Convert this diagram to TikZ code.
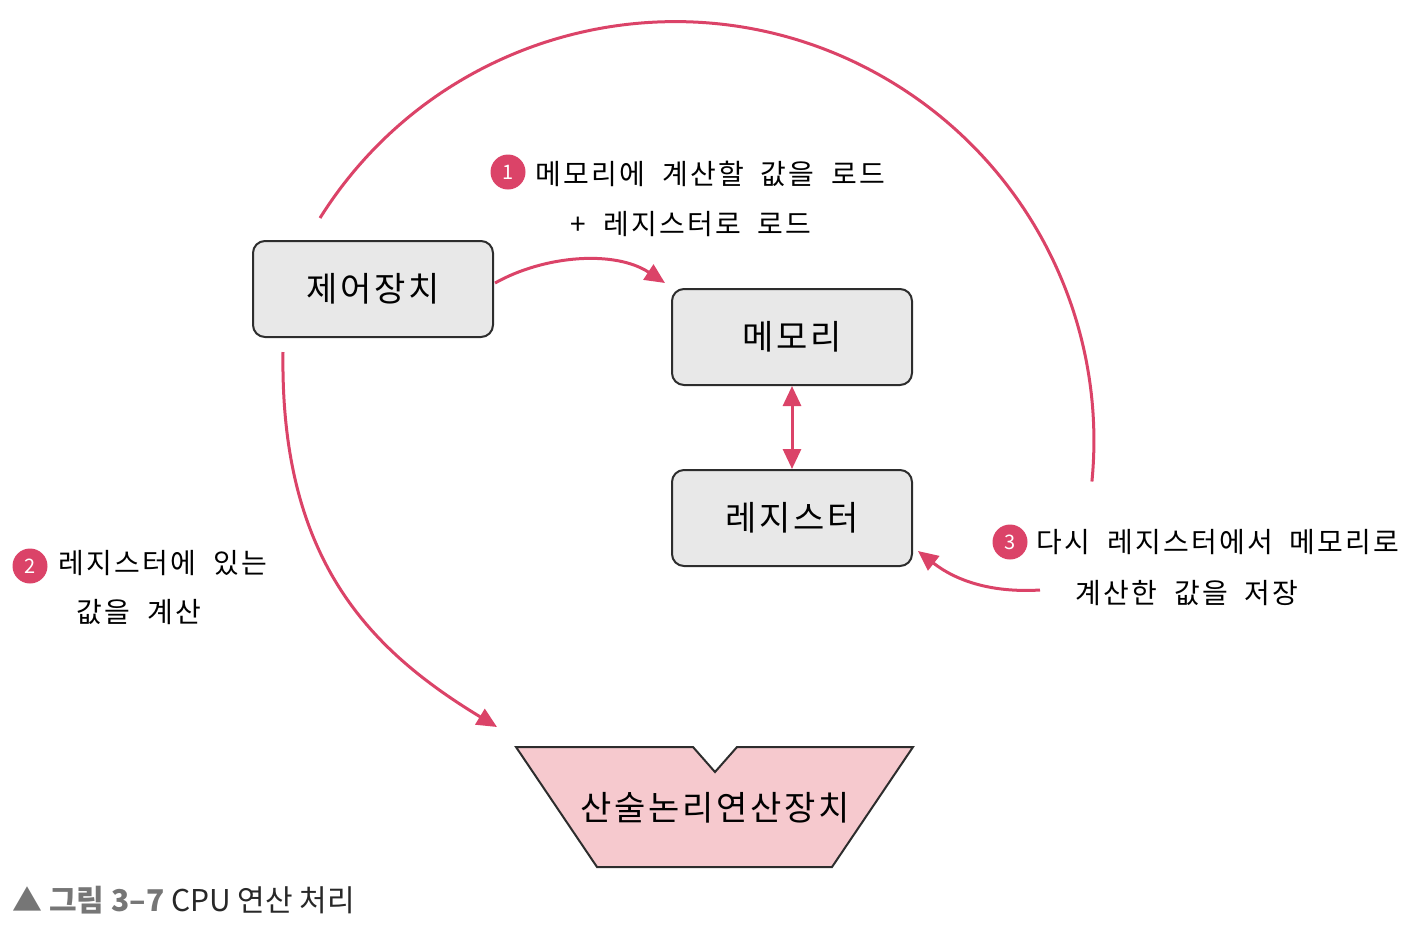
\documentclass[tikz,border=0pt]{standalone}
\usepackage{fontspec}
\setmainfont{Noto Sans CJK KR}
\newfontfamily\handfont[LetterSpace=8,WordSpace=2]{Noto Sans CJK KR}
\usetikzlibrary{arrows.meta}
\definecolor{pinkline}{RGB}{219,67,104}
\definecolor{alufill}{RGB}{246,201,206}
\definecolor{boxfill}{RGB}{232,232,232}
\definecolor{boxline}{RGB}{45,45,45}
\definecolor{capgray}{RGB}{118,118,118}
\definecolor{captext}{RGB}{40,40,40}
\tikzset{
  unitbox/.style={draw=boxline, fill=boxfill, line width=1pt, rounded corners=6pt,
    minimum width=120pt, minimum height=48pt, inner sep=0pt, font=\handfont\fontsize{17}{20}\selectfont},
  flow/.style={draw=pinkline, line width=1.5pt},
  flowarrow/.style={flow, -{Triangle[length=10pt,width=9pt]}},
  numdot/.style={circle, fill=pinkline, text=white, minimum size=17.5pt, inner sep=0pt,
    font=\fontsize{10}{12}\selectfont},
  note/.style={inner sep=0pt, font=\handfont\fontsize{14}{17}\selectfont, text=black},
}
\begin{document}
\begin{tikzpicture}[x=0.5pt,y=-0.5pt]
\useasboundingbox (0,0) rectangle (1408,944);

% boxes
\node[unitbox] (ctrl) at (373,289) {제어장치};
\node[unitbox] (mem) at (792,337) {메모리};
\node[unitbox] (reg) at (792,518) {레지스터};

% ALU shape
\draw[boxline, fill=alufill, line width=1pt]
  (516,747) -- (693,747) -- (715,772) -- (737,747) -- (913,747)
  -- (832,867) -- (597,867) -- cycle;
\node[inner sep=0pt, font=\handfont\fontsize{17}{20}\selectfont] (alu) at (715,808) {산술논리연산장치};

% coordinates for free ends
\coordinate (arcS) at (320,218);
\coordinate (arcE) at (1092,482);
\coordinate (aluIn) at (497,727);
\coordinate (ctrlOut) at (495,283);
\coordinate (memIn) at (665,283);
\coordinate (regIn) at (918,551);
\coordinate (noteThree) at (1040,590);
\coordinate (ctrlBot) at (283,352);

% big arc
\draw[flow] (arcS) arc[start angle=147.9, end angle=-5.6, radius=209.5pt];

% control -> memory
\draw[flowarrow] (ctrlOut) .. controls (545,255) and (615,250) .. (memIn);

% control -> ALU
\draw[flowarrow] (ctrlBot) .. controls (280,560) and (370,650) .. (aluIn);

% memory <-> register
\draw[flow, {Triangle[length=10pt,width=9pt]}-{Triangle[length=10pt,width=9pt]}]
  (mem.south) -- (reg.north);

% note 3 -> register
\draw[flowarrow] (noteThree) .. controls (990,593) and (955,580) .. (regIn);

% notes
\node[numdot] (n1) at (508,172) {1};
\node[note, anchor=west] (t1a) at (535,174) {메모리에 계산할 값을 로드};
\node[note] (t1b) at (691,224) {+ 레지스터로 로드};

\node[numdot] (n2) at (30,566) {2};
\node[note, anchor=west] (t2a) at (58,563) {레지스터에 있는};
\node[note] (t2b) at (139,612) {값을 계산};

\node[numdot] (n3) at (1010,542) {3};
\node[note, anchor=west] (t3a) at (1036,542) {다시 레지스터에서 메모리로};
\node[note] (t3b) at (1187,593) {계산한 값을 저장};

% caption
\node[anchor=west, inner sep=0pt, font=\fontsize{15}{18}\selectfont] (cap) at (12,900)
  {\textcolor{capgray}{\bfseries ▲ 그림 3–7} \textcolor{captext}{CPU 연산 처리}};
\end{tikzpicture}
\end{document}
